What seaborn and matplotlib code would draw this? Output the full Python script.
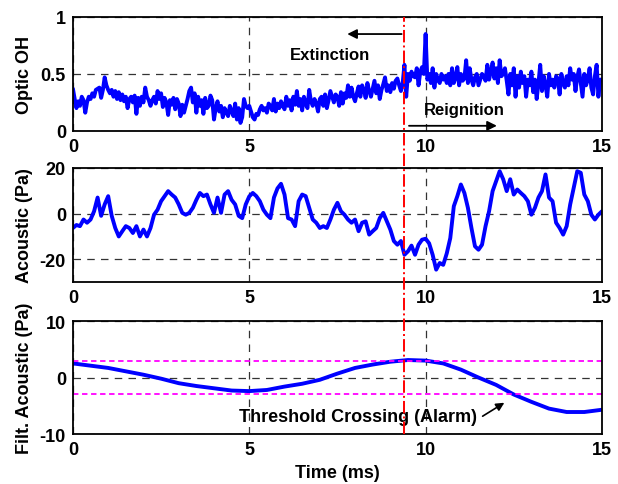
import numpy as np
import pandas as pd
import matplotlib
matplotlib.use('Agg')
import matplotlib.pyplot as plt
import matplotlib.transforms as mtransforms
from matplotlib.lines import Line2D
import seaborn as sns

# señal óptica OH, muestreo cada 0.05 ms (0 .. 15 ms)
optic_oh = [
    0.37, 0.28, 0.20, 0.26, 0.22, 0.30, 0.27, 0.16, 0.25, 0.30,
    0.28, 0.33, 0.30, 0.36, 0.37, 0.38, 0.29, 0.36, 0.47, 0.40,
    0.36, 0.33, 0.36, 0.30, 0.35, 0.28, 0.34, 0.27, 0.32, 0.26,
    0.30, 0.20, 0.28, 0.30, 0.25, 0.31, 0.15, 0.29, 0.22, 0.30,
    0.25, 0.38, 0.30, 0.27, 0.22, 0.27, 0.30, 0.24, 0.35, 0.28,
    0.33, 0.21, 0.29, 0.25, 0.14, 0.27, 0.23, 0.29, 0.19, 0.28,
    0.24, 0.13, 0.23, 0.16, 0.22, 0.28, 0.35, 0.38, 0.25, 0.33,
    0.16, 0.30, 0.22, 0.27, 0.15, 0.29, 0.20, 0.22, 0.31, 0.27,
    0.10, 0.20, 0.26, 0.17, 0.22, 0.12, 0.20, 0.16, 0.13, 0.22,
    0.17, 0.13, 0.24, 0.10, 0.20, 0.07, 0.12, 0.28, 0.22, 0.20,
    0.22, 0.17, 0.12, 0.10, 0.15, 0.14, 0.19, 0.22, 0.18, 0.20,
    0.16, 0.24, 0.22, 0.18, 0.28, 0.17, 0.24, 0.20, 0.26, 0.22,
    0.19, 0.30, 0.22, 0.27, 0.18, 0.30, 0.23, 0.35, 0.22, 0.28,
    0.18, 0.30, 0.24, 0.20, 0.36, 0.26, 0.22, 0.28, 0.24, 0.17,
    0.28, 0.30, 0.22, 0.32, 0.20, 0.27, 0.35, 0.30, 0.25, 0.32,
    0.30, 0.22, 0.34, 0.24, 0.33, 0.29, 0.40, 0.30, 0.38, 0.30,
    0.26, 0.33, 0.39, 0.30, 0.40, 0.36, 0.29, 0.42, 0.35, 0.30,
    0.37, 0.44, 0.33, 0.40, 0.28, 0.36, 0.41, 0.47, 0.35, 0.40,
    0.34, 0.42, 0.37, 0.44, 0.46, 0.40, 0.35, 0.42, 0.58, 0.30,
    0.50, 0.44, 0.52, 0.48, 0.47, 0.55, 0.40, 0.52, 0.56, 0.50,
    0.85, 0.45, 0.50, 0.42, 0.55, 0.38, 0.50, 0.45, 0.42, 0.50,
    0.45, 0.48, 0.42, 0.50, 0.40, 0.55, 0.42, 0.47, 0.56, 0.40,
    0.50, 0.44, 0.46, 0.62, 0.42, 0.55, 0.45, 0.40, 0.47, 0.50,
    0.40, 0.45, 0.50, 0.48, 0.44, 0.58, 0.45, 0.52, 0.60, 0.46,
    0.55, 0.42, 0.62, 0.48, 0.50, 0.55, 0.44, 0.32, 0.50, 0.40,
    0.55, 0.30, 0.48, 0.38, 0.52, 0.42, 0.48, 0.30, 0.45, 0.40,
    0.52, 0.34, 0.45, 0.28, 0.42, 0.58, 0.35, 0.48, 0.40, 0.30,
    0.50, 0.40, 0.45, 0.38, 0.48, 0.46, 0.32, 0.50, 0.42, 0.38,
    0.48, 0.40, 0.55, 0.45, 0.50, 0.35, 0.47, 0.54, 0.42, 0.30,
    0.50, 0.40, 0.45, 0.55, 0.38, 0.32, 0.48, 0.58, 0.30, 0.45,
    0.45,
]

# presión acústica (Pa), muestreo cada 0.1 ms
acoustic = [
    -6.3, -5.0, -5.5, -2.6, -4.0, -2.6, 1.0, 7.0, -1.0, 4.0,
    7.6, -1.0, -6.3, -10.0, -7.7, -5.5, -6.3, -8.5, -5.5, -10.0,
    -7.0, -10.0, -6.3, -0.5, 1.7, 5.4, 7.6, 9.8, 8.3, 7.0,
    4.0, 0.3, -0.5, 0.3, 2.5, 6.0, 9.0, 7.6, 8.3, 4.0,
    0.3, 7.0, 0.3, 8.3, 9.8, 6.0, 4.0, -1.0, -2.0, 4.0,
    7.5, 9.0, 7.6, 5.4, 1.7, -0.5, -2.0, 7.0, 11.0, 13.0,
    8.3, -2.0, -2.6, -5.5, 5.4, 8.3, 7.6, 2.5, -2.6, -4.0,
    -6.3, -5.5, -6.3, -2.6, 1.7, 4.7, 1.0, -0.5, -2.6, -4.0,
    -2.6, -7.7, -4.0, -3.4, -9.2, -7.7, -6.3, -2.0, 0.3, -3.4,
    -7.0, -12.0, -13.6, -12.0, -18.0, -16.5, -14.0, -18.0, -13.6, -11.4,
    -11.0, -13.0, -18.0, -24.5, -21.6, -22.4, -17.4, -10.7, 3.2, 7.6,
    12.7, 9.0, 2.5, -6.3, -14.3, -15.8, -13.6, -5.5, 1.0, 9.8,
    14.2, 18.5, 15.0, 9.8, 15.0, 8.3, 10.5, 9.0, 7.6, 5.4,
    -0.5, 2.5, 7.0, 9.8, 17.1, 7.0, 5.4, -4.0, -6.3, -9.2,
    -5.5, 4.0, 11.2, 18.5, 17.8, 8.3, 5.4, -0.5, -2.6, -0.5,
    1.0,
]

# acústica filtrada (Pa), muestreo cada 0.5 ms
filt_acoustic = [
    2.5, 2.1, 1.7, 1.1, 0.5, -0.2, -1.0, -1.5, -1.9, -2.3,
    -2.4, -2.2, -1.6, -1.1, -0.4, 0.7, 1.7, 2.3, 2.8, 3.1,
    3.0, 2.5, 1.4, 0.0, -1.3, -3.0, -4.3, -5.5, -6.1, -6.1,
    -5.7,
]

threshold = 3.0
t_event = 9.4

t_opt = np.arange(len(optic_oh)) * 0.05
t_ac = np.arange(len(acoustic)) * 0.1
t_filt = np.arange(len(filt_acoustic)) * 0.5

df_opt = pd.DataFrame({'t': t_opt, 'v': optic_oh})
df_ac = pd.DataFrame({'t': t_ac, 'v': acoustic})
df_filt = pd.DataFrame({'t': t_filt, 'v': filt_acoustic})

sns.set_style('white')
plt.rcParams['font.family'] = ['Liberation Sans', 'DejaVu Sans']
plt.rcParams['font.weight'] = 'bold'
plt.rcParams['axes.unicode_minus'] = False
plt.rcParams['text.color'] = 'black'
plt.rcParams['axes.labelcolor'] = 'black'
plt.rcParams['xtick.color'] = 'black'
plt.rcParams['ytick.color'] = 'black'

fig = plt.figure(figsize=(6.18, 4.85), dpi=100)
ax1 = fig.add_axes([0.118, 0.728, 0.856, 0.235])
ax2 = fig.add_axes([0.118, 0.416, 0.856, 0.236])
ax3 = fig.add_axes([0.118, 0.103, 0.856, 0.233])

blue = '#0000ff'
sns.lineplot(data=df_opt, x='t', y='v', ax=ax1, color=blue, lw=2.8)
sns.lineplot(data=df_ac, x='t', y='v', ax=ax2, color=blue, lw=2.8)
sns.lineplot(data=df_filt, x='t', y='v', ax=ax3, color=blue, lw=2.8)

ax1.set_ylim(0, 1)
ax1.set_yticks([0, 0.5, 1])
ax1.set_yticklabels(['0', '0.5', '1'])
ax2.set_ylim(-30, 20)
ax2.set_yticks([-20, 0, 20])
ax3.set_ylim(-10, 10)
ax3.set_yticks([-10, 0, 10])

ax1.set_ylabel('Optic OH', fontsize=13, fontweight='bold')
ax2.set_ylabel('Acoustic (Pa)', fontsize=13, fontweight='bold')
ax3.set_ylabel('Filt. Acoustic (Pa)', fontsize=13, fontweight='bold')
ax3.set_xlabel('Time (ms)', fontsize=13, fontweight='bold')

for ax in (ax1, ax2, ax3):
    ax.set_xlim(0, 15)
    ax.set_xticks([0, 5, 10, 15])
    ax.tick_params(direction='in', length=4, labelsize=13, pad=5,
                   colors='black', labelcolor='black')
    for lbl in ax.get_xticklabels() + ax.get_yticklabels():
        lbl.set_fontweight('bold')
    ax.grid(True, color='#333333', linestyle=(0, (6, 5)), lw=0.9)
    ax.set_axisbelow(True)
    for s in ax.spines.values():
        s.set_color('black')
        s.set_linewidth(1.3)
    if ax is not ax3:
        ax.set_xlabel('')
    ax.yaxis.set_label_coords(-0.075, 0.5)

# umbrales de alarma
for th in (threshold, -threshold):
    ax3.axhline(th, color='magenta', linestyle=(0, (3, 2)), lw=1.3)

# línea roja del evento que atraviesa los tres paneles
trans = mtransforms.blended_transform_factory(ax3.transData, fig.transFigure)
fig.add_artist(Line2D([t_event, t_event], [0.103, 0.963], transform=trans,
                      color='red', linestyle='-.', lw=1.4))

# anotaciones
arrow = dict(arrowstyle='-|>', color='black', lw=1.3, mutation_scale=14)
ax1.annotate('', xy=(7.7, 0.85), xytext=(t_event, 0.85), arrowprops=arrow)
ax1.text(7.3, 0.67, 'Extinction', ha='center', va='center', fontsize=12, fontweight='bold')
ax1.annotate('', xy=(12.1, 0.045), xytext=(t_event + 0.05, 0.045), arrowprops=arrow)
ax1.text(11.1, 0.19, 'Reignition', ha='center', va='center', fontsize=12, fontweight='bold')
ax3.text(11.45, -6.9, 'Threshold Crossing (Alarm)', ha='right', va='center',
         fontsize=13, fontweight='bold')
ax3.annotate('', xy=(12.3, -4.2), xytext=(11.55, -7.1),
             arrowprops=dict(arrowstyle='-|>', color='black', lw=1.2, mutation_scale=12))

fig.savefig('out.png', dpi=100)
